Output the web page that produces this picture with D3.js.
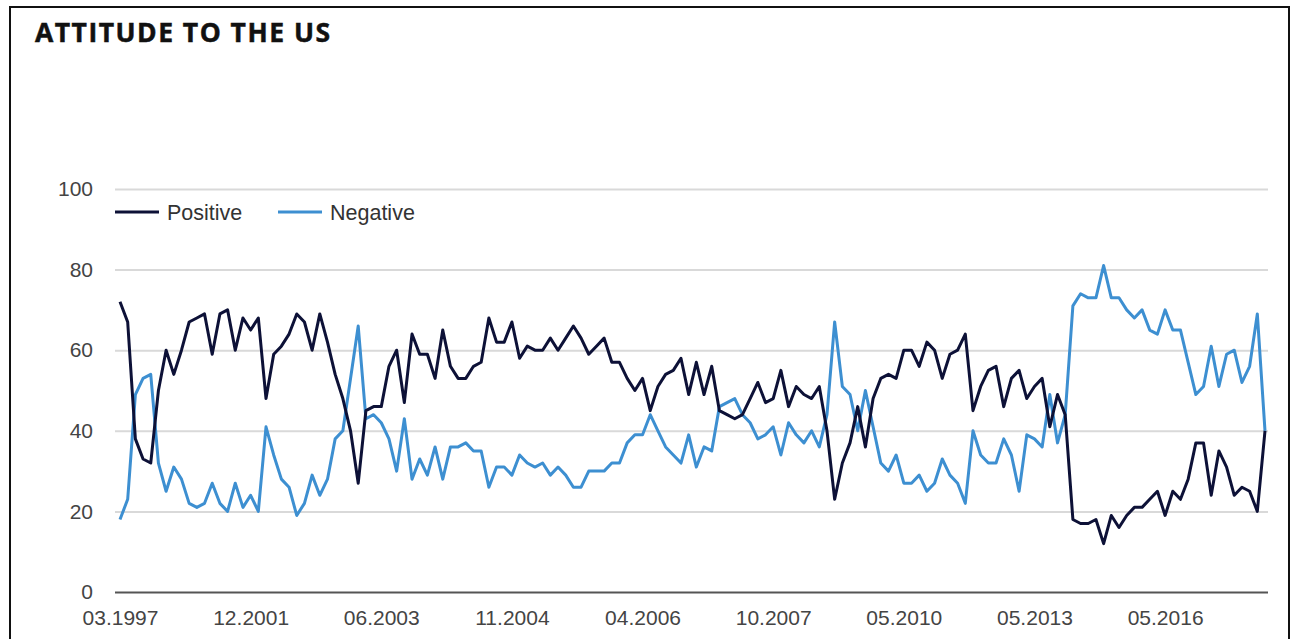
<!DOCTYPE html>
<html>
<head>
    <meta charset="utf-8" />
    <title>Attitude to the US</title>
    <script src="https://d3js.org/d3.v7.min.js"></script>
    <style>
        body { margin: 0; background: white; }
        .frame { position: absolute; left: 9px; top: 6px; width: 1281px; height: 700px; border: 2px solid #111; box-sizing: border-box; }
        .tick text { font: 21px "Liberation Sans", Arial, sans-serif; fill: #444; }
    </style>
</head>
<body>
    <div class="frame"></div>
    <svg id="chart" width="1300" height="639" style="position:absolute;left:0;top:0"></svg>
    <script>
        // survey values (one per poll)
        let positive = [
            72, 67, 38, 33, 32, 50, 60, 54, 60, 67, 68, 69, 59, 69, 70, 60, 68, 65, 68, 48,
            59, 61, 64, 69, 67, 60, 69, 62, 54, 48, 40, 27,
            45, 46, 46, 56, 60, 47, 64, 59, 59, 53, 65, 56, 53, 53, 56, 57, 68, 62, 62, 67,
            58, 61, 60, 60, 63, 60, 63, 66, 63,
            59, 61, 63, 57, 57, 53, 50, 53, 45, 51, 54, 55, 58, 49, 57, 49, 56, 45, 44, 43,
            44, 48, 52, 47, 48, 55, 46, 51, 49, 48,
            51, 40, 23, 32, 37, 46, 36, 48, 53, 54, 53, 60, 60, 56, 62, 60, 53, 59, 60, 64,
            45, 51, 55, 56, 46, 53, 55, 48, 51, 53,
            41, 49, 44, 18, 17, 17, 18, 12, 19, 16, 19, 21, 21, 23, 25, 19, 25, 23, 28, 37,
            37, 24, 35, 31, 24, 26, 25, 20, 40
        ];
        let negative = [
            18, 23, 49, 53, 54, 32, 25, 31, 28, 22, 21, 22, 27, 22, 20, 27, 21, 24, 20, 41,
            34, 28, 26, 19, 22, 29, 24, 28, 38, 40, 53, 66,
            43, 44, 42, 38, 30, 43, 28, 33, 29, 36, 28, 36, 36, 37, 35, 35, 26, 31, 31, 29,
            34, 32, 31, 32, 29, 31, 29, 26, 26,
            30, 30, 30, 32, 32, 37, 39, 39, 44, 40, 36, 34, 32, 39, 31, 36, 35, 46, 47, 48,
            44, 42, 38, 39, 41, 34, 42, 39, 37, 40,
            36, 44, 67, 51, 49, 40, 50, 41, 32, 30, 34, 27, 27, 29, 25, 27, 33, 29, 27, 22,
            40, 34, 32, 32, 38, 34, 25, 39, 38, 36,
            49, 37, 44, 71, 74, 73, 73, 81, 73, 73, 70, 68, 70, 65, 64, 70, 65, 65, 57, 49,
            51, 61, 51, 59, 60, 52, 56, 69, 40
        ];
        let dateLabels = ['03.1997', '12.2001', '06.2003', '11.2004', '04.2006', '10.2007', '05.2010', '05.2013', '05.2016'];
        let labelEvery = 17;
        let yTicks = [0, 20, 40, 60, 80, 100];

        let series = [
            { name: 'Positive', values: positive, color: '#0d1137' },
            { name: 'Negative', values: negative, color: '#3d8fd1' }
        ];

        let svg = d3.select('#chart');

        svg.append('text')
            .attr('x', 35).attr('y', 42)
            .attr('textLength', 295)
            .attr('lengthAdjust', 'spacing')
            .style('font', '700 26.5px "Open Sans", sans-serif')
            .style('fill', '#111')
            .style('stroke', '#111')
            .style('stroke-width', 0.5)
            .text('ATTITUDE TO THE US');

        let x = d3.scaleLinear().domain([0, positive.length - 1]).range([120, 1265]);
        let y = d3.scaleLinear().domain([0, 100]).range([592, 189]);

        // gridlines + y labels
        let yAxis = svg.append('g')
            .attr('transform', 'translate(115,0)')
            .call(d3.axisLeft(y).tickValues(yTicks).tickSize(-1153).tickPadding(22));
        yAxis.select('.domain').remove();
        yAxis.selectAll('.tick line')
            .attr('stroke', d => d === 0 ? '#555' : '#d9d9d9')
            .attr('stroke-width', 2);

        // x labels
        let xAxis = svg.append('g')
            .attr('transform', 'translate(0,592)')
            .call(d3.axisBottom(x)
                .tickValues(dateLabels.map((d, i) => i * labelEvery))
                .tickFormat((d, i) => dateLabels[i])
                .tickSize(0).tickPadding(18));
        xAxis.select('.domain').remove();

        let line = d3.line()
            .x((d, i) => x(i))
            .y(d => y(d));

        svg.selectAll('.series')
            .data(series.slice().reverse())
            .enter()
            .append('path')
            .attr('class', 'series')
            .attr('d', d => line(d.values))
            .attr('fill', 'none')
            .attr('stroke', d => d.color)
            .attr('stroke-width', 3)
            .attr('stroke-linejoin', 'round');

        // legend
        let legend = svg.append('g').attr('transform', 'translate(115,212)');
        let items = legend.selectAll('g')
            .data(series)
            .enter()
            .append('g')
            .attr('transform', (d, i) => 'translate(' + (i * 163) + ',0)');
        items.append('line')
            .attr('x1', 0).attr('x2', 44)
            .attr('stroke', d => d.color)
            .attr('stroke-width', 3);
        items.append('text')
            .attr('x', 52).attr('y', 8)
            .style('font', '21.5px "Liberation Sans", Arial, sans-serif')
            .style('fill', '#333')
            .text(d => d.name);
    </script>
</body>
</html>
